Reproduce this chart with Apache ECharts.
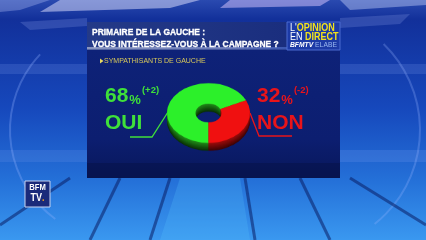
<!DOCTYPE html>
<html><head><meta charset="utf-8">
<script src="https://cdn.jsdelivr.net/npm/echarts@6/dist/echarts.min.js"></script>
<style>
html,body{margin:0;padding:0;background:#1a48b8;overflow:hidden}
#bg{position:absolute;left:0;top:0;width:426px;height:240px}
#pie{position:absolute;left:0;top:0;width:426px;height:240px;transform:scaleY(0.72);transform-origin:208.5px 113px}
</style></head><body>
<div id="bg"></div><div id="pie"></div>
<script>
// ---- data ----
const categories = ['OUI', 'NON'];
const values = [68, 32];
const changes = ['+2', '-2'];
const titleLines = ['PRIMAIRE DE LA GAUCHE :', 'VOUS INTÉRESSEZ-VOUS À LA CAMPAGNE ?'];
const subtitle = 'SYMPATHISANTS DE GAUCHE';
// ---------------

const topColors = ['#2cf02a', '#f01010'];
const textColors = ['#3fe03a', '#e8141a'];
const SANS = '"Liberation Sans",Arial,sans-serif';

const bg = echarts.init(document.getElementById('bg'));
const g = [];
// background
g.push({type:'rect', shape:{x:0,y:0,width:426,height:240}, style:{fill:new echarts.graphic.LinearGradient(0,0,0,1,[
  {offset:0,color:'#2a4ab0'},{offset:0.08,color:'#12309a'},{offset:0.45,color:'#1648bc'},{offset:0.75,color:'#2470d8'},{offset:1,color:'#3a98f0'}])}, silent:true});
// top light streaks
g.push({type:'polygon', shape:{points:[[60,0],[200,0],[170,8],[40,12]]}, style:{fill:'rgba(230,230,255,0.5)'}, silent:true});
g.push({type:'polygon', shape:{points:[[230,0],[330,0],[320,6],[220,8]]}, style:{fill:'rgba(220,200,255,0.5)'}, silent:true});
g.push({type:'polygon', shape:{points:[[340,0],[426,0],[426,5],[350,10]]}, style:{fill:'rgba(210,220,255,0.4)'}, silent:true});
g.push({type:'polygon', shape:{points:[[0,0],[50,0],[20,10],[0,12]]}, style:{fill:'rgba(200,210,255,0.3)'}, silent:true});
g.push({type:'polygon', shape:{points:[[20,22],[87,18],[87,26],[30,30]]}, style:{fill:'rgba(140,160,230,0.25)'}, silent:true});
g.push({type:'polygon', shape:{points:[[340,18],[410,14],[400,24],[340,28]]}, style:{fill:'rgba(140,160,230,0.25)'}, silent:true});
// mid side bands
g.push({type:'rect', shape:{x:0,y:64,width:87,height:10}, style:{fill:'rgba(120,150,230,0.22)'}, silent:true});
g.push({type:'rect', shape:{x:340,y:64,width:86,height:10}, style:{fill:'rgba(120,150,230,0.22)'}, silent:true});
g.push({type:'rect', shape:{x:340,y:150,width:86,height:12}, style:{fill:'rgba(120,160,240,0.22)'}, silent:true});
g.push({type:'rect', shape:{x:0,y:150,width:87,height:12}, style:{fill:'rgba(120,160,240,0.18)'}, silent:true});
g.push({type:'arc', shape:{cx:120,cy:130,r:110,startAngle:2.2,endAngle:3.9}, style:{stroke:'rgba(150,180,255,0.3)',lineWidth:2,fill:null}, silent:true});
g.push({type:'arc', shape:{cx:300,cy:130,r:120,startAngle:-0.8,endAngle:0.9}, style:{stroke:'rgba(150,180,255,0.28)',lineWidth:2,fill:null}, silent:true});
// bottom stripes
[[120,178,90,240],[170,178,150,240],[245,178,255,240],[300,178,330,240],[70,178,0,225],[350,178,426,225]].forEach(p=>{
  g.push({type:'line', shape:{x1:p[0],y1:p[1],x2:p[2],y2:p[3]}, style:{stroke:'rgba(10,30,100,0.55)',lineWidth:3}, silent:true});
});
g.push({type:'polygon', shape:{points:[[180,178],[240,178],[250,240],[160,240]]}, style:{fill:'rgba(90,200,255,0.22)'}, silent:true});
// panel
g.push({type:'rect', shape:{x:87,y:50,width:253,height:128}, style:{fill:new echarts.graphic.LinearGradient(0,0,0,1,[
  {offset:0,color:'#0e2278'},{offset:0.7,color:'#0c1e70'},{offset:1,color:'#08175a'}])}, silent:true});
g.push({type:'rect', shape:{x:87,y:163,width:253,height:15}, style:{fill:'rgba(5,15,60,0.35)'}, silent:true});
// header band
g.push({type:'rect', shape:{x:87,y:22,width:200,height:28}, style:{fill:new echarts.graphic.LinearGradient(0,0,1,0,[
  {offset:0,color:'#243a88'},{offset:1,color:'#1a2e7e'}])}, silent:true});
g.push({type:'rect', shape:{x:87,y:47,width:200,height:2.5}, style:{fill:new echarts.graphic.LinearGradient(0,0,1,0,[
  {offset:0,color:'#8a96c0'},{offset:0.7,color:'#6a7ab8'},{offset:1,color:'#3a56b0'}])}, silent:true});
titleLines.forEach((t,i)=>{
  g.push({type:'text', x:92, y:32.5+i*11.5, scaleX:0.92, style:{text:t, x:0, y:0, fill:'#ffffff', font:'bold 9.2px '+SANS, verticalAlign:'middle', stroke:'#ffffff', lineWidth:0.3}, silent:true});
});
// logo box
g.push({type:'rect', shape:{x:287,y:22,width:53,height:28}, style:{fill:'#1c3aa6', stroke:'#4a6ad0', lineWidth:1}, silent:true});
g.push({type:'text', x:290, y:28.5, scaleX:0.9, style:{text:"{w|L'}{y|OPINION}", x:0, y:0, verticalAlign:'middle',
  rich:{w:{fill:'#ffffff',font:'10px '+SANS},y:{fill:'#f2e21c',font:'bold 10px '+SANS}}}, silent:true});
g.push({type:'text', x:290, y:37, scaleX:0.9, style:{text:"{w|EN }{y|DIRECT}", x:0, y:0, verticalAlign:'middle',
  rich:{w:{fill:'#ffffff',font:'10px '+SANS},y:{fill:'#f2e21c',font:'bold 10px '+SANS}}}, silent:true});
g.push({type:'text', x:290, y:45, scaleX:0.9, style:{text:"{w|BFMTV }{l|ELABE}", x:0, y:0, verticalAlign:'middle',
  rich:{w:{fill:'#ffffff',font:'italic bold 7.5px '+SANS},l:{fill:'#9ab8f0',font:'7.5px '+SANS}}}, silent:true});
// subtitle
g.push({type:'polygon', shape:{points:[[100,58.5],[103.5,61],[100,63.5]]}, style:{fill:'#e8d860'}, silent:true});
g.push({type:'text', x:104, y:61, style:{text:subtitle, x:0, y:0, fill:'#d8c85a', font:'7px '+SANS, verticalAlign:'middle'}, silent:true});

// value labels
const labelPos = [{x:105, lx:[[130,137],[152,137],[168,112]]}, {x:257, lx:[[250,113],[259,136],[292,136]]}];
categories.forEach((c,i)=>{
  const p = labelPos[i];
  g.push({type:'text', style:{text:'{n|'+values[i]+'}{p|%}{c|('+changes[i]+')}', x:p.x, y:107, verticalAlign:'bottom',
    rich:{n:{fill:textColors[i],font:'bold 21px '+SANS, verticalAlign:'bottom'},
          p:{fill:textColors[i],font:'bold 13px '+SANS, verticalAlign:'bottom', padding:[0,0,0,1]},
          c:{fill:textColors[i],font:'bold 9.5px '+SANS, verticalAlign:'top', padding:[0,0,12,1]}}}, silent:true});
  g.push({type:'text', style:{text:c, x:p.x, y:123.5, fill:textColors[i], font:'bold 21px '+SANS, verticalAlign:'middle'}, silent:true});
  g.push({type:'polyline', shape:{points:p.lx}, style:{stroke:textColors[i], lineWidth:1.3, fill:null}, silent:true});
});
// BFM TV logo
g.push({type:'rect', shape:{x:25,y:181,width:25,height:26}, style:{fill:'#1a2a7a', stroke:'#c8d4f0', lineWidth:1}, silent:true});
g.push({type:'text', x:37.5, y:188, scaleX:0.85, style:{text:'BFM', x:0, y:0, fill:'#fff', font:'bold 9px '+SANS, align:'center', verticalAlign:'middle'}, silent:true});
g.push({type:'text', x:37.5, y:198, scaleX:0.9, style:{text:'{a|TV}{b|.}', x:0, y:0, align:'center', verticalAlign:'middle',
  rich:{a:{fill:'#fff',font:'bold 10px '+SANS},b:{fill:'#f0a020',font:'bold 10px '+SANS}}}, silent:true});

bg.setOption({animation:false, graphic:{elements:g}});

// ---- 3D donut (ellipse via CSS scaleY) ----
const pie = echarts.init(document.getElementById('pie'));
const series = [];
const cx = 208.5, cy = 113, depthSteps = 10;
const pieData = categories.map((c,i)=>({name:c, value:values[i]}));
function pieSeries(offset, colors){
  return {type:'pie', center:[cx, cy+offset], radius:[13,41.5], startAngle:270, clockwise:true,
    silent:true, animation:false, label:{show:false}, labelLine:{show:false}, emphasis:{disabled:true},
    itemStyle:{borderWidth:0}, data:pieData.map((d,i)=>({name:d.name, value:d.value, itemStyle:{color:colors[i]}}))};
}
for(let k=depthSteps;k>=1;k--){
  const t = k/depthSteps;
  const cols = [echarts.color.lerp(t,['#22901a','#0a3006']), echarts.color.lerp(t,['#a00c0c','#400404'])];
  series.push(pieSeries(k*1.1, cols));
}
series.push(pieSeries(0, topColors));
pie.setOption({animation:false, backgroundColor:'transparent', series});
</script>
</body></html>
